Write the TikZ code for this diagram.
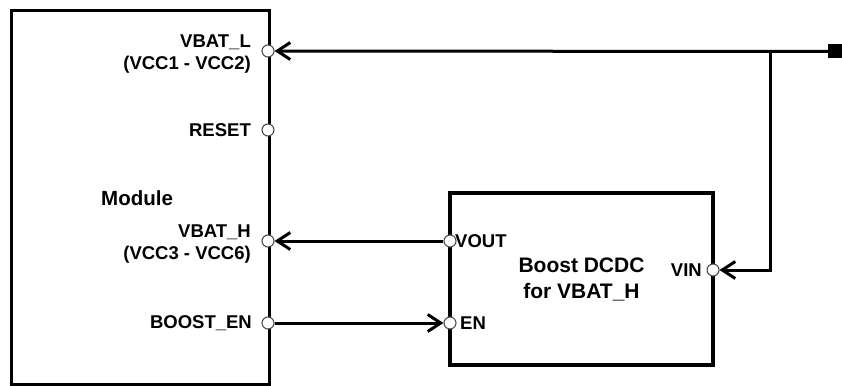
\documentclass[tikz,border=0pt]{standalone}
\usepackage{fontspec}
\setmainfont{Liberation Sans}
\usetikzlibrary{arrows.meta,positioning}
\tikzset{wire/.style={line width=3pt, -{Straight Barb[length=13pt,width=17pt,line width=3pt]}},
  box/.style={draw, line width=3.2pt, inner sep=0pt},
  port/.style={circle, draw=black!70, fill=white, line width=1.1pt, minimum size=12pt, inner sep=0pt},
  plbl/.style={font=\fontsize{18.5}{22}\selectfont\bfseries, align=right, inner sep=0pt}}

\begin{document}
\begin{tikzpicture}[x=1pt, y=-1pt]
  \useasboundingbox (0,0) rectangle (842,385);
  % module block
  \node[box, minimum width=258pt, minimum height=374pt, anchor=north west] (mod) at (10,9) {};
  \node[font=\fontsize{20.5}{24}\selectfont\bfseries, anchor=west, inner sep=0pt] (modname) at (101,198) {Module};
  % boost converter
  \node[box, minimum width=263pt, minimum height=172pt, font=\fontsize{21}{26}\selectfont\bfseries, align=center] (boost) at (581.5,279) {Boost DCDC\\for VBAT\_H};
  % module pins
  \node[port] (vbatl) at (268,51) {};
  \node[port] (reset) at (268,130) {};
  \node[port] (vbath) at (268,241) {};
  \node[port] (boosten) at (268,323) {};
  \node[plbl, anchor=east] at (251,54) {VBAT\_L\\(VCC1 - VCC2)};
  \node[plbl, anchor=east] at (251,130) {RESET};
  \node[plbl, anchor=east] at (251,244) {VBAT\_H\\(VCC3 - VCC6)};
  \node[plbl, anchor=east] at (252,323) {BOOST\_EN};
  % boost pins
  \node[port] (vout) at (450,241) {};
  \node[port] (en) at (450,323) {};
  \node[port] (vin) at (713,270) {};
  \node[plbl, anchor=west] at (455,241) {VOUT};
  \node[plbl, anchor=west] at (460,323) {EN};
  \node[plbl, anchor=east] at (702,270) {VIN};
  % battery input
  \node[fill=black, minimum size=14pt, inner sep=0pt] (batt) at (835,51.5) {};
  \coordinate (tap) at (770,51);
  \draw[wire] (batt) -- (vbatl);
  \draw[wire] (tap) |- (vin);
  \draw[wire] (vout) -- (vbath);
  \draw[wire] (boosten) -- (en);
\end{tikzpicture}
\end{document}
